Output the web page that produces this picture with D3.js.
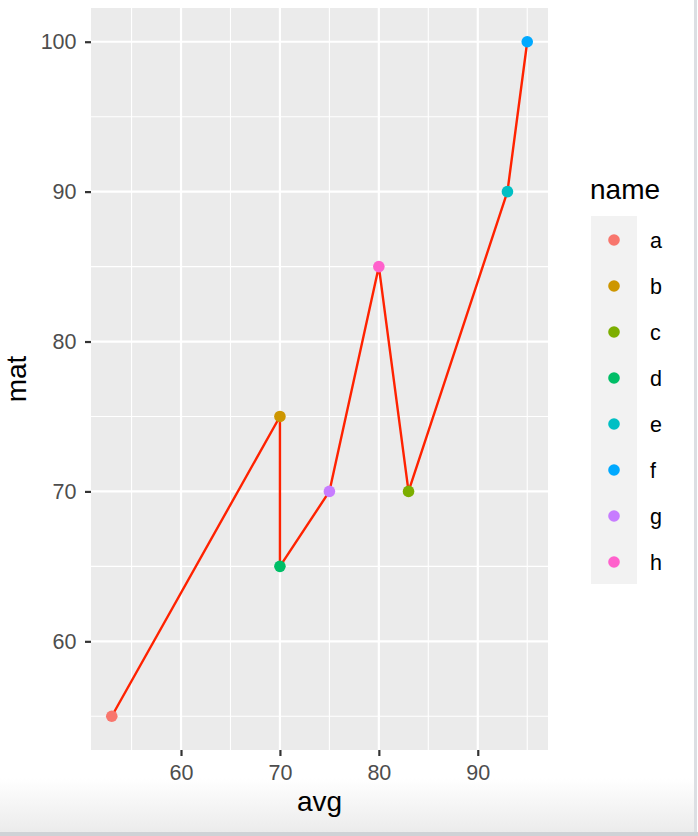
<!DOCTYPE html>
<html>
<head>
<meta charset="utf-8">
<script src="https://cdn.jsdelivr.net/npm/d3@7"></script>
<style>
  html, body { margin: 0; padding: 0; background: #fff; }
  svg { display: block; font-family: "Liberation Sans", Arial, Helvetica, sans-serif; }
</style>
</head>
<body>
<div id="chart"></div>
<script>
// data
const names = ["a", "b", "c", "d", "e", "f", "g", "h"];
const avg = [53, 70, 83, 70, 93, 95, 75, 80];
const mat = [55, 75, 70, 65, 90, 100, 70, 85];
const colors = ["#F8766D", "#CD9600", "#7CAE00", "#00BE67", "#00BFC4", "#00A9FF", "#C77CFF", "#FF61CC"];
const xTicks = [60, 70, 80, 90];
const yTicks = [60, 70, 80, 90, 100];
const xMinor = [55, 65, 75, 85, 95];
const yMinor = [55, 65, 75, 85, 95];

let width = 698,
    height = 836;

let svg = d3.select("#chart").append("svg")
    .attr("width", width)
    .attr("height", height);

// window-ish frame at bottom / right
let defs = svg.append("defs");
let grad = defs.append("linearGradient")
    .attr("id", "fade")
    .attr("x1", 0).attr("y1", 0).attr("x2", 0).attr("y2", 1);
grad.append("stop").attr("offset", "0%").attr("stop-color", "#ffffff");
grad.append("stop").attr("offset", "100%").attr("stop-color", "#ebebeb");
svg.append("rect")
    .attr("x", 0).attr("y", 778).attr("width", 695).attr("height", 55)
    .attr("fill", "url(#fade)");
svg.append("rect")
    .attr("x", 694).attr("y", 0).attr("width", 3).attr("height", 836)
    .attr("fill", "#dcdfe3");
svg.append("rect")
    .attr("x", 0).attr("y", 832).attr("width", 698).attr("height", 4)
    .attr("fill", "#cfd2d6");

let panel = {left: 91, right: 548, top: 8, bottom: 750};

let xExt = d3.extent(avg), yExt = d3.extent(mat);
let xPad = (xExt[1] - xExt[0]) * 0.05, yPad = (yExt[1] - yExt[0]) * 0.05;

let x = d3.scaleLinear()
    .domain([xExt[0] - xPad, xExt[1] + xPad])
    .range([panel.left, panel.right]);
let y = d3.scaleLinear()
    .domain([yExt[0] - yPad, yExt[1] + yPad])
    .range([panel.bottom, panel.top]);

// panel background
svg.append("rect")
    .attr("x", panel.left).attr("y", panel.top)
    .attr("width", panel.right - panel.left)
    .attr("height", panel.bottom - panel.top)
    .attr("fill", "#EBEBEB");

let grid = svg.append("g").attr("stroke", "#fff");

grid.selectAll("line.xminor").data(xMinor).enter().append("line")
    .attr("x1", d => x(d)).attr("x2", d => x(d))
    .attr("y1", panel.top).attr("y2", panel.bottom)
    .attr("stroke-width", 1.1);
grid.selectAll("line.yminor").data(yMinor).enter().append("line")
    .attr("y1", d => y(d)).attr("y2", d => y(d))
    .attr("x1", panel.left).attr("x2", panel.right)
    .attr("stroke-width", 1.1);
grid.selectAll("line.xmajor").data(xTicks).enter().append("line")
    .attr("x1", d => x(d)).attr("x2", d => x(d))
    .attr("y1", panel.top).attr("y2", panel.bottom)
    .attr("stroke-width", 2.2);
grid.selectAll("line.ymajor").data(yTicks).enter().append("line")
    .attr("y1", d => y(d)).attr("y2", d => y(d))
    .attr("x1", panel.left).attr("x2", panel.right)
    .attr("stroke-width", 2.2);

// axes
let xAxis = svg.append("g")
    .attr("transform", `translate(0,${panel.bottom})`)
    .call(d3.axisBottom(x).tickValues(xTicks).tickSize(6).tickPadding(9));
let yAxis = svg.append("g")
    .attr("transform", `translate(${panel.left},0)`)
    .call(d3.axisLeft(y).tickValues(yTicks).tickSize(6).tickPadding(8.5));

[xAxis, yAxis].forEach(ax => {
    ax.attr("font-size", null).attr("font-family", null);
    ax.select(".domain").remove();
    ax.selectAll(".tick line").attr("stroke", "#333").attr("stroke-width", 2.2);
    ax.selectAll(".tick text")
        .attr("fill", "#4D4D4D")
        .style("font-size", "21.5px");
});

svg.append("text")
    .attr("x", (panel.left + panel.right) / 2)
    .attr("y", 811)
    .attr("text-anchor", "middle")
    .style("font-size", "28px")
    .text("avg");

svg.append("text")
    .attr("transform", `translate(25.5,${(panel.top + panel.bottom) / 2}) rotate(-90)`)
    .attr("text-anchor", "middle")
    .style("font-size", "28px")
    .text("mat");

// line (sorted by x like geom_line)
let pts = names.map((n, i) => ({name: n, x: avg[i], y: mat[i], c: colors[i]}));
let sorted = pts.slice().sort((a, b) => a.x - b.x);

svg.append("path")
    .datum(sorted)
    .attr("fill", "none")
    .attr("stroke", "#FF2200")
    .attr("stroke-width", 2.4)
    .attr("stroke-linejoin", "round")
    .attr("d", d3.line().x(d => x(d.x)).y(d => y(d.y)));

svg.append("g").selectAll("circle")
    .data(pts)
    .enter().append("circle")
    .attr("cx", d => x(d.x))
    .attr("cy", d => y(d.y))
    .attr("r", 5.8)
    .attr("fill", d => d.c);

// legend
let legend = svg.append("g").attr("transform", "translate(591,0)");
legend.append("text")
    .attr("x", -1).attr("y", 199)
    .style("font-size", "28px")
    .text("name");
legend.append("rect")
    .attr("x", 0).attr("y", 216)
    .attr("width", 46).attr("height", 368)
    .attr("fill", "#F2F2F2");

let key = legend.selectAll("g.key")
    .data(pts)
    .enter().append("g")
    .attr("transform", (d, i) => `translate(0,${240 + i * 46})`);
key.append("circle")
    .attr("cx", 23).attr("cy", 0).attr("r", 5.8)
    .attr("fill", d => d.c);
key.append("text")
    .attr("x", 59).attr("y", 7.5)
    .style("font-size", "21.5px")
    .text(d => d.name);
</script>
</body>
</html>
